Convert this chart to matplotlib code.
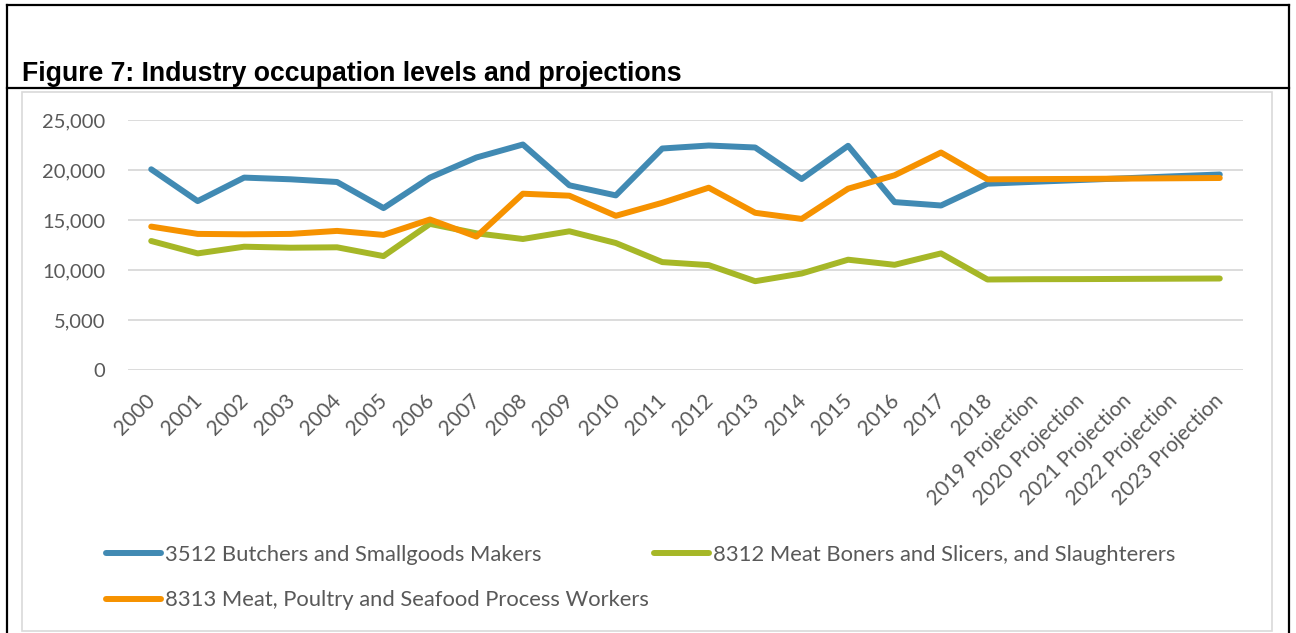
import matplotlib
matplotlib.use("Agg")
import matplotlib.pyplot as plt
from matplotlib.lines import Line2D
from matplotlib.patches import Rectangle
from matplotlib.ticker import FuncFormatter
from matplotlib.transforms import ScaledTranslation

# categories and series
years = ["2000", "2001", "2002", "2003", "2004", "2005", "2006", "2007",
         "2008", "2009", "2010", "2011", "2012", "2013", "2014", "2015",
         "2016", "2017", "2018", "2019 Projection", "2020 Projection",
         "2021 Projection", "2022 Projection", "2023 Projection"]
butchers = [20070, 16890, 19240, 19070, 18800, 16190, 19240, 21250,
            22550, 18470, 17460, 22150, 22450, 22250, 19100, 22420,
            16790, 16450, 18630, 18820, 19000, 19180, 19370, 19550]
boners = [12900, 11660, 12330, 12230, 12270, 11390, 14610, 13670,
          13100, 13870, 12700, 10790, 10490, 8880, 9650, 11030,
          10520, 11660, 9050, 9080, 9090, 9110, 9130, 9150]
process = [14340, 13610, 13570, 13610, 13910, 13510, 15050, 13340,
           17630, 17430, 15420, 16720, 18230, 15720, 15110, 18130,
           19470, 21750, 19070, 19090, 19110, 19140, 19170, 19200]

names = ["3512 Butchers and Smallgoods Makers",
         "8312 Meat Boners and Slicers, and Slaughterers",
         "8313 Meat, Poultry and Seafood Process Workers"]
colors = ["#418AB3", "#A6B727", "#F69200"]

W, H = 1296, 633
fig = plt.figure(figsize=(W / 100, H / 100), dpi=100)
txt = "#595959"
font = "Lato"


def px(x, y):
    return x / W, 1 - y / H


# frame of the document figure
for x0, y0, x1, y1 in [(7, 5, 1289, 5), (7, 5, 7, 633), (1289, 5, 1289, 633), (7, 88, 1289, 88)]:
    a, b = px(x0, y0)
    c, d = px(x1, y1)
    fig.add_artist(Line2D([a, c], [b, d], color="black", lw=1.6))
fig.add_artist(Rectangle(px(22, 631), (1272 - 22) / W, (631 - 92) / H,
                         fill=False, edgecolor="#D9D9D9", lw=1.2))

fig.text(22 / W, 1 - 81 / H, "Figure 7: Industry occupation levels and projections",
         fontsize=19.2, fontweight="bold", family="Liberation Sans", color="black")

ax = fig.add_axes([128 / W, 1 - 370 / H, 1115 / W, 250 / H])
x = range(len(years))
lines = []
for vals, name, col in zip([butchers, boners, process], names, colors):
    ln, = ax.plot(x, vals, color=col, lw=4.3, solid_capstyle="round",
                  solid_joinstyle="round", label=name)
    lines.append(ln)

ax.set_xlim(-0.5, len(years) - 0.5)
ax.set_ylim(0, 25000)
ax.set_yticks(range(0, 25001, 5000))
ax.yaxis.set_major_formatter(FuncFormatter(lambda v, p: f"{int(v):,}"))
ax.grid(axis="y", color="#D9D9D9", lw=1.3)
ax.set_axisbelow(True)
for s in ax.spines.values():
    s.set_visible(False)
ax.tick_params(axis="y", length=0, pad=16.5, labelsize=14.5, labelcolor=txt)
ax.tick_params(axis="x", length=0, pad=19.5, labelsize=15, labelcolor=txt)
ax.set_xticks(list(x))
ax.set_xticklabels(years, rotation=45, ha="right", va="center", rotation_mode="anchor")
for lab in ax.get_xticklabels():
    lab.set_transform(lab.get_transform() + ScaledTranslation(1 / 100, 0, fig.dpi_scale_trans))
for lab in ax.get_xticklabels() + ax.get_yticklabels():
    lab.set_family(font)

# legend: two columns, blue/orange in the first, green in the second
fs = 15.8
em = fs * 100 / 72
leg = fig.legend([lines[0], lines[2], lines[1]], [names[0], names[2], names[1]],
                 ncol=2, loc="upper left", bbox_to_anchor=px(106, 545),
                 frameon=False, borderpad=0, borderaxespad=0,
                 handlelength=55 / em, handletextpad=4 / em,
                 columnspacing=5 / em, labelspacing=1.15,
                 prop={"family": font, "size": fs})
for t in leg.get_texts():
    t.set_color(txt)

fig.savefig("out.png", dpi=100)
